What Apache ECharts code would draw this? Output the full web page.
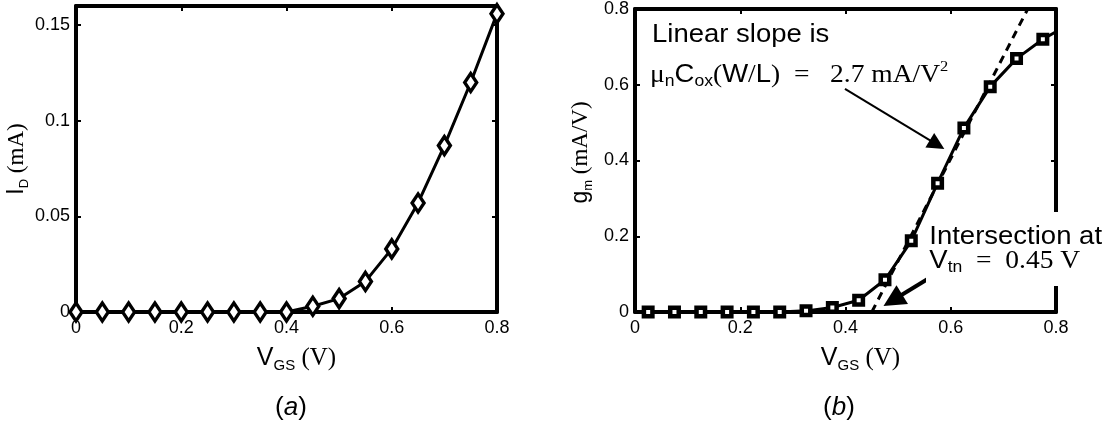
<!DOCTYPE html>
<html>
<head>
<meta charset="utf-8">
<script src="https://cdn.jsdelivr.net/npm/echarts@6/dist/echarts.min.js"></script>
<style>html,body{margin:0;padding:0;background:#fff}#c{width:1117px;height:429px}</style>
</head>
<body>
<div id="c"></div>
<script>
// ---- data ----
const vgsA = [0, 0.05, 0.1, 0.15, 0.2, 0.25, 0.3, 0.35, 0.4, 0.45, 0.5, 0.55, 0.6, 0.65, 0.7, 0.75, 0.8];
const idA  = [0, 0, 0, 0, 0, 0, 0, 0, 0, 0.003, 0.007, 0.016, 0.033, 0.057, 0.087, 0.12, 0.156];
const vgsB = [0, 0.025, 0.075, 0.125, 0.175, 0.225, 0.275, 0.325, 0.375, 0.425, 0.475, 0.525, 0.575, 0.625, 0.675, 0.725, 0.775, 0.8];
const gmB  = [0, 0, 0, 0, 0, 0, 0, 0.003, 0.012, 0.031, 0.085, 0.188, 0.34, 0.486, 0.595, 0.669, 0.72, 0.74];
const markerB = [false, true, true, true, true, true, true, true, true, true, true, true, true, true, true, true, true, false];
const fitX = [0.45, 0.7463];
const fitY = [0, 0.8];
const arrow1 = [[0.399, 0.589], [0.574, 0.442]];
const arrow2 = [[0.557, 0.088], [0.490, 0.031]];
const xTicks = [0, 0.8, 0.2];
const yTicksA = [0, 0.16, 0.05];
const yTicksB = [0, 0.8, 0.2];

const SANS = 'Liberation Sans, Arial, Helvetica, sans-serif';
const SERIF = 'Liberation Serif, Times New Roman, serif';

const chart = echarts.init(document.getElementById('c'));

const labelStyle = {color: '#000', fontFamily: SANS, fontSize: 18};
function xAxisDef(grid, top, name, shift) {
  return {
    gridIndex: grid, type: 'value', position: top ? 'top' : 'bottom',
    min: xTicks[0], max: xTicks[1], interval: xTicks[2],
    axisLine: {onZero: false, lineStyle: {color: '#000', width: 4}},
    axisTick: {inside: true, length: 5, lineStyle: {color: '#000', width: 2}},
    axisLabel: Object.assign({show: !top, margin: 7}, labelStyle),
    splitLine: {show: false},
    name: top ? '' : name, nameLocation: 'middle', nameGap: 31,
    nameTextStyle: {
      color: '#000', padding: [0, 0, 0, shift || 0],
      rich: {
        s: {fontFamily: SANS, fontSize: 25, color: '#000', lineHeight: 30},
        sub: {fontFamily: SANS, fontSize: 15, color: '#000', lineHeight: 15, verticalAlign: 'bottom'},
        t: {fontFamily: SERIF, fontSize: 25, color: '#000', lineHeight: 30}
      }
    }
  };
}
function yAxisDef(grid, right, ticks, name, gap, hideMax, shift) {
  return {
    gridIndex: grid, type: 'value', position: right ? 'right' : 'left',
    min: ticks[0], max: ticks[1], interval: ticks[2],
    axisLine: {onZero: false, lineStyle: {color: '#000', width: 4}},
    axisTick: {inside: true, length: 5, lineStyle: {color: '#000', width: 2}},
    axisLabel: Object.assign({show: !right, margin: 6, showMaxLabel: !hideMax}, labelStyle),
    splitLine: {show: false},
    name: right ? '' : name, nameLocation: 'middle', nameGap: gap,
    nameTextStyle: {
      color: '#000', padding: [0, 0, 0, shift || 0],
      rich: {
        s: {fontFamily: SANS, fontSize: 23, color: '#000', lineHeight: 28},
        sub: {fontFamily: SANS, fontSize: 13, color: '#000', lineHeight: 13, verticalAlign: 'bottom'},
        t: {fontFamily: SERIF, fontSize: 23, color: '#000', lineHeight: 28}
      }
    }
  };
}

const dataA = vgsA.map((v, i) => [v, idA[i]]);
const dataB = vgsB.map((v, i) => markerB[i] ? [v, gmB[i]] : {value: [v, gmB[i]], symbol: 'none'});
const fitData = fitX.map((v, i) => [v, fitY[i]]);

const RICH = {
  m: {fontFamily: SANS, fontSize: 25, color: '#000', lineHeight: 30},
  sr: {fontFamily: SERIF, fontSize: 25, color: '#000', lineHeight: 30},
  sb: {fontFamily: SANS, fontSize: 16, color: '#000', lineHeight: 16, verticalAlign: 'bottom'},
  sp: {fontFamily: SERIF, fontSize: 15, color: '#000', lineHeight: 15, verticalAlign: 'top'},
  mu: {fontFamily: SERIF, fontSize: 25, color: '#000', lineHeight: 30}
};
const SX = 1.1;

chart.setOption({
  animation: false,
  backgroundColor: '#fff',
  grid: [
    {left: 76, top: 6, width: 421, height: 306, containLabel: false},
    {left: 635, top: 6, width: 421, height: 306, containLabel: false}
  ],
  xAxis: [xAxisDef(0, false, '{s|V}{sub|GS}{t| (V)}', 20), xAxisDef(0, true, ''),
          xAxisDef(1, false, '{s|V}{sub|GS}{t| (V)}', 30), xAxisDef(1, true, '')],
  yAxis: [yAxisDef(0, false, yTicksA, '{s|I}{sub|D}{t| (mA)}', 42, true, 0), yAxisDef(0, true, yTicksA, '', 0, true),
          yAxisDef(1, false, yTicksB, '{s|g}{sub|m}{t| (mA/V)}', 40, false, 16), yAxisDef(1, true, yTicksB, '', 0, false)],
  series: [
    {
      type: 'line', xAxisIndex: 0, yAxisIndex: 0, data: dataA, z: 5,
      lineStyle: {color: '#000', width: 3},
      symbol: 'diamond', symbolSize: [12, 18], showAllSymbol: true,
      itemStyle: {color: '#fff', borderColor: '#000', borderWidth: 3.5}
    },
    {
      type: 'line', xAxisIndex: 2, yAxisIndex: 2, data: fitData, z: 4, symbol: 'none',
      lineStyle: {color: '#000', width: 3, type: [8, 6]},
      markLine: {
        silent: true, animation: false,
        label: {show: false},
        data: [
          [{coord: arrow1[0], symbol: 'none', lineStyle: {color: '#000', width: 2, type: 'solid'}},
           {coord: arrow1[1], symbol: 'triangle', symbolSize: [17, 17]}],
          [{coord: arrow2[0], symbol: 'none', lineStyle: {color: '#000', width: 4, type: 'solid'}},
           {coord: arrow2[1], symbol: 'triangle', symbolSize: [22, 22]}]
        ]
      }
    },
    {
      type: 'line', xAxisIndex: 2, yAxisIndex: 2, data: dataB, z: 5,
      lineStyle: {color: '#000', width: 3},
      symbol: 'rect', symbolSize: 8.5, showAllSymbol: true,
      itemStyle: {color: '#fff', borderColor: '#000', borderWidth: 4.5}
    }
  ],
  graphic: [
    {type: 'text', x: 652, y: 35, scaleX: SX, z: 100, style: {text: '{m|Linear slope is}', rich: RICH, verticalAlign: 'middle', textVerticalAlign: 'middle'}},
    {type: 'text', x: 650, y: 75, scaleX: SX, z: 100, style: {
      text: '{mu|μ}{sb|n}{m|C}{sb|ox}{sr|(}{m|W}{sr|/}{m|L}{sr|)  =   2.7 mA/V}{sp|2}',
      rich: RICH, verticalAlign: 'middle', textVerticalAlign: 'middle'}},
    {type: 'text', x: 926, y: 233, scaleX: SX, z: 100, style: {
      text: '{m|Intersection at}', rich: RICH, backgroundColor: '#fff', padding: [10, 3, 2, 3],
      verticalAlign: 'middle', textVerticalAlign: 'middle'}},
    {type: 'text', x: 926, y: 265, scaleX: SX, z: 100, style: {
      text: '{m|V}{sb|tn}{sr|  =  0.45 V}', rich: RICH, backgroundColor: '#fff', padding: [2, 3, 10, 3],
      verticalAlign: 'middle', textVerticalAlign: 'middle'}},
    {type: 'text', x: 291, y: 408, z: 100, style: {
      text: '{p|(}{i|a}{p|)}', align: 'center', textAlign: 'center', verticalAlign: 'middle', textVerticalAlign: 'middle',
      rich: {p: {fontFamily: SANS, fontSize: 26, color: '#000'}, i: {fontFamily: SANS, fontSize: 26, fontStyle: 'italic', color: '#000'}}}},
    {type: 'text', x: 839, y: 408, z: 100, style: {
      text: '{p|(}{i|b}{p|)}', align: 'center', textAlign: 'center', verticalAlign: 'middle', textVerticalAlign: 'middle',
      rich: {p: {fontFamily: SANS, fontSize: 26, color: '#000'}, i: {fontFamily: SANS, fontSize: 26, fontStyle: 'italic', color: '#000'}}}}
  ]
});
</script>
</body>
</html>
